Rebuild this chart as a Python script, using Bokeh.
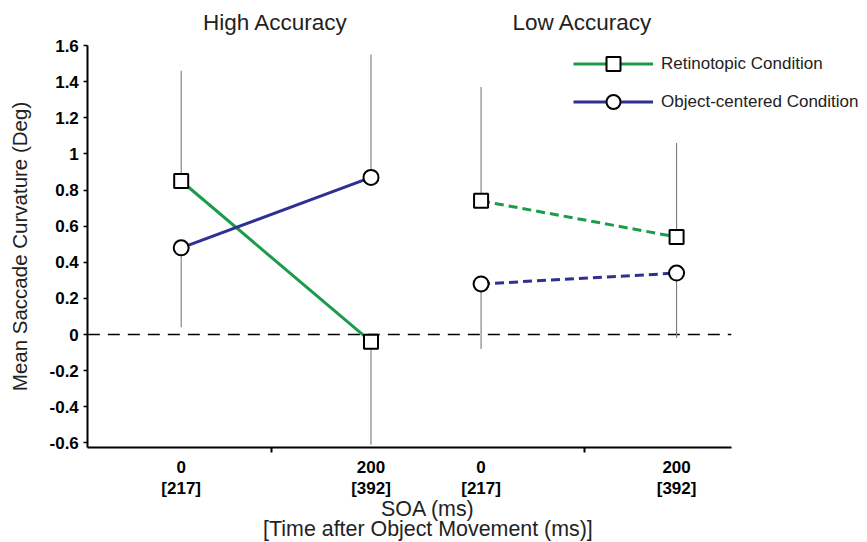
from bokeh.plotting import figure
from bokeh.models import (FixedTicker, Label, Legend, LegendItem, Range1d, LinearAxis)
from bokeh.embed import file_html
from bokeh.resources import INLINE

# ---------------- data ----------------
group = ["High Accuracy", "High Accuracy", "Low Accuracy", "Low Accuracy"]
soa_ms = [0, 200, 0, 200]
time_after_ms = [217, 392, 217, 392]
retinotopic_mean = [0.85, -0.04, 0.74, 0.54]
retinotopic_err = [0.61, 0.57, 0.63, 0.52]
object_mean = [0.48, 0.87, 0.28, 0.34]
object_err = [0.44, 0.68, 0.36, 0.36]
y_tick_values = [-0.6, -0.4, -0.2, 0.0, 0.2, 0.4, 0.6, 0.8, 1.0, 1.2, 1.4, 1.6]
group_names = ["High Accuracy", "Low Accuracy"]

# ---------------- layout constants ----------------
GROUP_ORIGIN = {"High Accuracy": 1.0, "Low Accuracy": 2.58}
GROUP_SPAN = {"High Accuracy": 1.0, "Low Accuracy": 1.03}
GROUP_TICK = {"High Accuracy": 1.474, "Low Accuracy": 3.126}
GROUP_TITLE_X = {"High Accuracy": 1.497, "Low Accuracy": 3.114}
AX_X0, AX_X1 = 0.508, 3.898      # extent of the drawn x axis
AX_Y0, AX_Y1 = -0.625, 1.6       # extent of the drawn y axis
GREEN = "#1b9c4a"
BLUE = "#2e3192"
FONT = "Liberation Sans"
W, H = 867, 542

xpos = [round(GROUP_ORIGIN[g] + GROUP_SPAN[g] * s / 200.0, 4) for g, s in zip(group, soa_ms)]

p = figure(width=W, height=H, output_backend="svg", toolbar_location=None,
           x_range=Range1d(0.04795, 4.6159), y_range=Range1d(-1.1517, 1.8494),
           x_axis_location=None, y_axis_location=None,
           min_border=0, min_border_left=0, min_border_right=0, min_border_top=0, min_border_bottom=0)
p.outline_line_color = None
p.grid.visible = False
p.background_fill_color = "white"

# zero reference line across the axis extent
p.segment(x0=[AX_X0], y0=[0], x1=[AX_X1], y1=[0], line_color="black", line_width=1.5, line_dash="12 8")

# one-sided error bars: the upper series gets an upward bar, the lower a downward bar
ex, ey0, ey1 = [], [], []
for i in range(len(xpos)):
    r_up = retinotopic_mean[i] >= object_mean[i]
    ex += [xpos[i], xpos[i]]
    ey0 += [retinotopic_mean[i], object_mean[i]]
    if r_up:
        ey1 += [retinotopic_mean[i] + retinotopic_err[i], object_mean[i] - object_err[i]]
    else:
        ey1 += [retinotopic_mean[i] - retinotopic_err[i], object_mean[i] + object_err[i]]
p.segment(x0=ex, y0=ey0, x1=ex, y1=ey1, line_color="#7a7a7a", line_width=1.1)

legend_renderers = {}
for g in group_names:
    idx = [i for i, gg in enumerate(group) if gg == g]
    gx = [xpos[i] for i in idx]
    dash = "solid" if g == "High Accuracy" else "9 5"
    rl = p.line(gx, [retinotopic_mean[i] for i in idx], line_color=GREEN, line_width=3, line_dash=dash)
    ol = p.line(gx, [object_mean[i] for i in idx], line_color=BLUE, line_width=3, line_dash=dash)
    if g == "High Accuracy":
        legend_renderers["r_line"] = rl
        legend_renderers["o_line"] = ol

rs = p.scatter(xpos, retinotopic_mean, marker="square", size=14, fill_color="white",
               line_color="black", line_width=2)
os_ = p.scatter(xpos, object_mean, marker="circle", size=15, fill_color="white",
                line_color="black", line_width=2)

legend = Legend(items=[
    LegendItem(label="Retinotopic Condition", renderers=[legend_renderers["r_line"], rs]),
    LegendItem(label="Object-centered Condition", renderers=[legend_renderers["o_line"], os_]),
], location=(573, 423))
legend.glyph_width = 80
legend.glyph_height = 35
legend.label_height = 35
legend.spacing = 3
legend.padding = 0
legend.margin = 0
legend.label_standoff = 8
legend.border_line_color = None
legend.background_fill_alpha = 0
legend.label_text_font = FONT
legend.label_text_font_size = "17px"
legend.label_text_color = "#222222"
p.add_layout(legend, "center")

# y axis (drawn at a fixed position inside the canvas)
yax = LinearAxis(fixed_location=AX_X0, bounds=(AX_Y0, AX_Y1))
yax.ticker = FixedTicker(ticks=y_tick_values)
yax.major_label_overrides = {v: f"{v:g}" for v in y_tick_values}
yax.axis_line_width = 2
yax.axis_line_color = "black"
yax.major_tick_out = 4
yax.major_tick_in = 0
yax.minor_tick_out = 0
yax.minor_tick_in = 0
yax.major_tick_line_width = 1.5
yax.major_label_standoff = 5
yax.major_label_text_font = FONT
yax.major_label_text_font_style = "bold"
yax.major_label_text_font_size = "17px"
yax.major_label_text_color = "black"
yax.axis_label = "Mean Saccade Curvature (Deg)"
yax.axis_label_text_font = FONT
yax.axis_label_text_font_style = "normal"
yax.axis_label_text_font_size = "20.5px"
yax.axis_label_text_color = "#222222"
yax.axis_label_standoff = 15
p.add_layout(yax, "left")

# x axis
xax = LinearAxis(fixed_location=AX_Y0, bounds=(AX_X0, AX_X1))
xax.ticker = FixedTicker(ticks=xpos, minor_ticks=[GROUP_TICK[g] for g in group_names])
xax.major_label_overrides = {x: f"{s}\n[{t}]" for x, s, t in zip(xpos, soa_ms, time_after_ms)}
xax.axis_line_width = 2
xax.axis_line_color = "black"
xax.major_tick_out = 0
xax.major_tick_in = 0
xax.minor_tick_out = 5
xax.minor_tick_in = 0
xax.minor_tick_line_width = 2
xax.minor_tick_line_color = "black"
xax.major_label_standoff = 6
xax.major_label_text_font = FONT
xax.major_label_text_font_style = "bold"
xax.major_label_text_font_size = "17px"
xax.major_label_text_line_height = 1.1
xax.major_label_text_color = "black"
p.add_layout(xax, "below")

# group titles
for g in group_names:
    p.add_layout(Label(x=GROUP_TITLE_X[g], y=1.727, text=g, text_align="center", text_baseline="middle",
                       text_font=FONT, text_font_size="22.5px", text_color="#222222"))

# x axis title (two lines)
x_title_center = 2.30
p.add_layout(Label(x=x_title_center, y=-0.968, text="SOA (ms)", text_align="center", text_baseline="middle",
                   text_font=FONT, text_font_size="21.4px", text_color="#222222"))
p.add_layout(Label(x=x_title_center, y=-1.0742, text="[Time after Object Movement (ms)]", text_align="center",
                   text_baseline="middle", text_font=FONT, text_font_size="21.4px", text_color="#222222"))

open("out.html", "w").write(file_html(p, INLINE))
